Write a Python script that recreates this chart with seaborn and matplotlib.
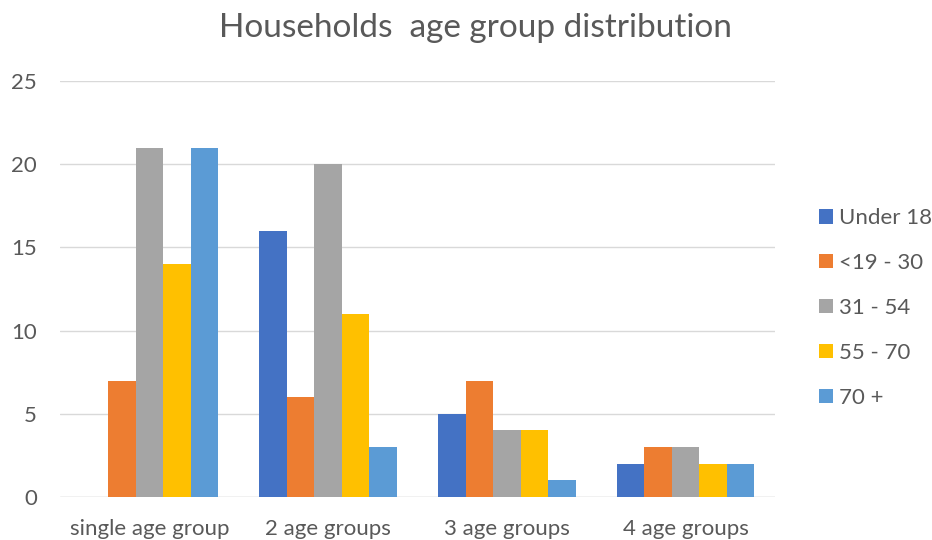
import matplotlib
matplotlib.use("Agg")
import matplotlib.pyplot as plt
import seaborn as sns
import pandas as pd

categories = ["single age group", "2 age groups", "3 age groups", "4 age groups"]
series = ["Under 18", "<19 - 30", "31 - 54", "55 - 70", "70 +"]
under_18 = [0, 16, 5, 2]
age_19_30 = [7, 6, 7, 3]
age_31_54 = [21, 20, 4, 3]
age_55_70 = [14, 11, 4, 2]
age_70_plus = [21, 3, 1, 2]
colors = ["#4472C4", "#ED7D31", "#A5A5A5", "#FFC000", "#5B9BD5"]

values = [under_18, age_19_30, age_31_54, age_55_70, age_70_plus]
rows = []
for name, vals in zip(series, values):
    for cat, v in zip(categories, vals):
        rows.append({"group": cat, "age": name, "count": v})
df = pd.DataFrame(rows)

sns.set_style("white")
plt.rcParams["font.family"] = ["Lato", "DejaVu Sans"]
text_color = "#595959"

fig = plt.figure(figsize=(9.32, 5.4), dpi=100)
ax = fig.add_axes([60 / 932, 1 - 497 / 540, (775 - 60) / 932, (497 - 81) / 540])

sns.barplot(data=df, x="group", y="count", hue="age", order=categories,
            hue_order=series, palette=colors, width=0.77, saturation=1,
            linewidth=0, ax=ax, legend=True)

ax.set_ylim(0, 25)
ax.set_xlim(-0.5, 3.5)
ax.set_yticks([0, 5, 10, 15, 20, 25])
ax.yaxis.grid(True, color="#D9D9D9", linewidth=1)
ax.set_axisbelow(True)
for s in ax.spines.values():
    s.set_visible(False)
ax.axhline(0, color="#D9D9D9", linewidth=1, zorder=0.5)
ax.set_xlabel("")
ax.set_ylabel("")
ax.tick_params(axis="both", length=0, labelsize=16, labelcolor=text_color)
ax.tick_params(axis="y", pad=16.5)
ax.tick_params(axis="x", pad=16)

fig.text(475 / 932, 1 - 28 / 540, "Households  age group distribution",
         ha="center", va="center", fontsize=24, color=text_color)

handles, labels = ax.get_legend_handles_labels()
ax.legend(handles, labels, loc="center left", bbox_to_anchor=(819 / 932, 1 - 308 / 540),
          bbox_transform=fig.transFigure, frameon=False, fontsize=16,
          labelcolor=text_color, handlelength=0.62, handleheight=0.62,
          handletextpad=0.3, labelspacing=1.12, borderpad=0, borderaxespad=0)

fig.savefig("out.png", dpi=100)
